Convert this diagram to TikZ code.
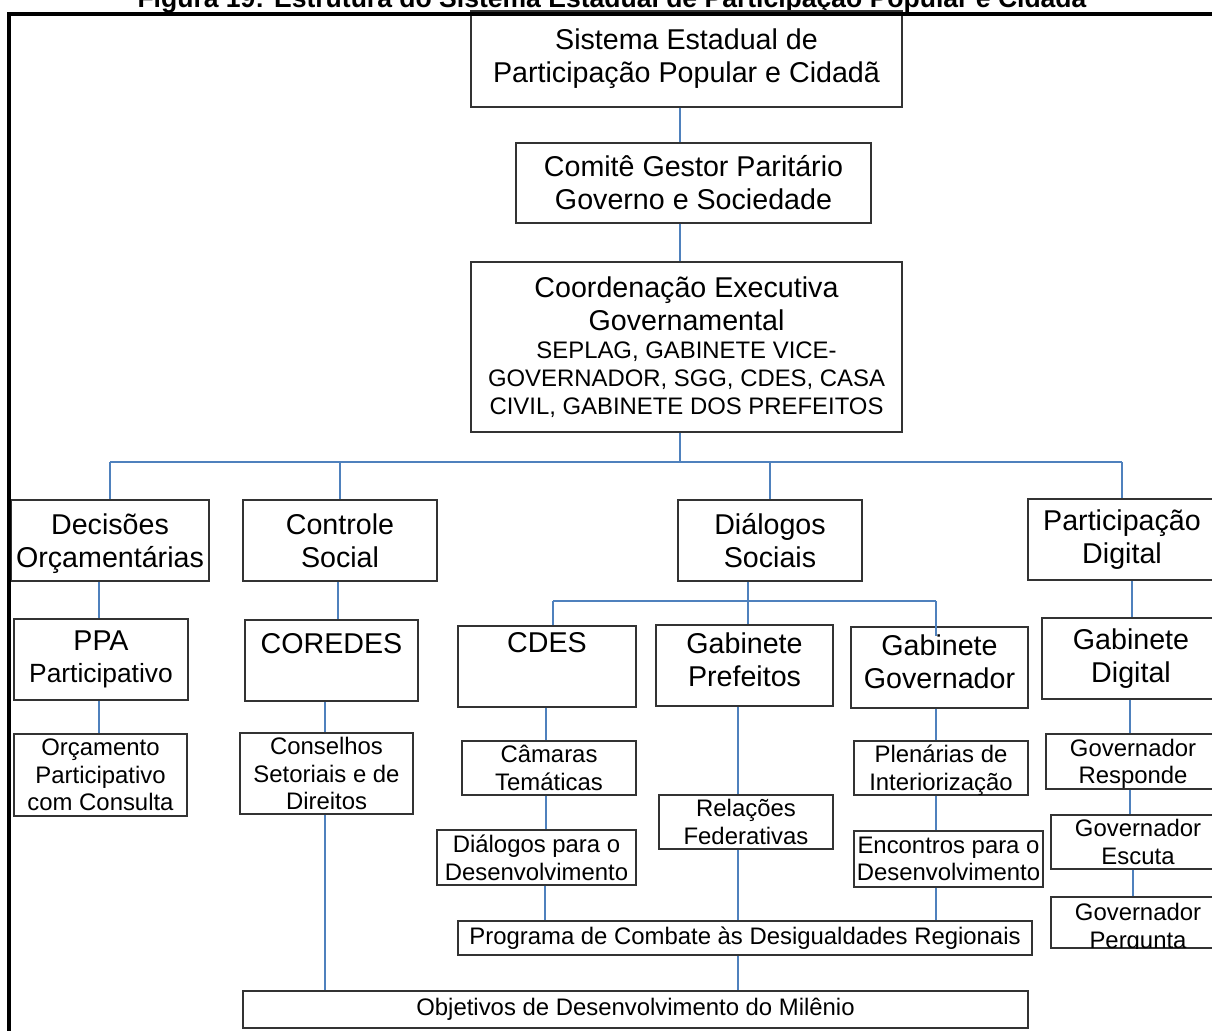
\documentclass[tikz,border=0pt]{standalone}
\usepackage{fontspec}
\setmainfont{Liberation Sans}
\definecolor{linkblue}{HTML}{4F81BD}
\definecolor{boxline}{HTML}{333333}
\newcommand\bigf{\fontsize{16.3}{18.8}\selectfont}
\newcommand\medf{\fontsize{15}{17.3}\selectfont}
\newcommand\smallf{\fontsize{13.6}{15.8}\selectfont}

\begin{document}
\begin{tikzpicture}[x=0.02cm, y=-0.02cm,
    box/.style={draw=boxline, line width=0.85pt, inner sep=0pt, align=center, fill=white},
    wh/.style 2 args={minimum width=#1*0.02cm, minimum height=#2*0.02cm},
    bigbox/.style={box, font=\bigf},
    smallbox/.style={box, font=\smallf},
    link/.style={draw=linkblue, line width=0.9pt}]
  \useasboundingbox (0,0) rectangle (1212,1030);
  \clip (0,0) rectangle (1212,1030);
  % title, cut by the top edge
  \node[anchor=base, font=\fontsize{15.1}{18}\selectfont\bfseries] (title) at (612,8)
    {Figura 19: Estrutura do Sistema Estadual de Participação Popular e Cidadã};

  % head of the chart
  \node[bigbox, wh={431}{96}] (sis) at (686.5,59) {Sistema Estadual de\\Participação Popular e Cidadã};
  \node[bigbox, wh={355}{80}] (com) at (693.5,183) {Comitê Gestor Paritário\\Governo e Sociedade};
  \node[bigbox, wh={431}{170}, text width=8.5cm, align=flush center] (coo) at (686.5,347)
    {Coordenação Executiva\\Governamental\par
    \smallf SEPLAG, GABINETE VICE-\\GOVERNADOR, SGG, CDES, CASA\\CIVIL, GABINETE DOS PREFEITOS\par};

  % the four branches
  \node[bigbox, wh={198}{81}] (dec) at (110,540.5) {Decisões\\Or\smash{ç}amentárias};
  \node[bigbox, wh={194}{81}] (con) at (340,540.5) {Controle\\Social};
  \node[bigbox, wh={184}{81}] (dia) at (770,540.5) {Diálogos\\Sociais};
  \node[bigbox, wh={188}{81}] (par) at (1122,539.5) {Participação\\Digital};

  \node[bigbox, wh={174}{81}] (ppa) at (101,659.5) {PPA\\[-1pt]\medf Participativo};
  \node[bigbox, wh={173}{81}] (cor) at (331.5,660.5) {COREDES\\\mbox{}};
  \node[bigbox, wh={178}{81}] (cdes) at (547,666.5) {CDES\\[8pt]\mbox{}};
  \node[bigbox, wh={177}{81}] (pre) at (744.5,665.5) {Gabinete\\Prefeitos\\[-12.6pt]\mbox{}};
  \node[bigbox, wh={177}{81}] (gov) at (939.5,667.5) {Gabinete\\Governador\\[-12.6pt]\mbox{}};
  \node[bigbox, wh={178}{81}] (gd) at (1131,658.5) {Gabinete\\Digital};

  \node[smallbox, wh={173}{82}] (orc) at (100.5,775) {Orçamento\\Participativo\\com Consulta};
  \node[smallbox, wh={173}{81}] (cons) at (326.5,773.5) {Conselhos\\Setoriais e de\\Direitos};
  \node[smallbox, wh={174}{54}] (cam) at (549,768) {Câmaras\\Temáticas};
  \node[smallbox, wh={199}{55}] (dpd) at (536.5,857.5) {Diálogos para o\\Desenvolvimento};
  \node[smallbox, wh={174}{54}] (rel) at (746,822) {Relações\\Federativas};
  \node[smallbox, wh={174}{54}] (ple) at (941,768) {Plenárias de\\Interioriza\smash{ç}ão};
  \node[smallbox, wh={189}{56}] (enc) at (948.5,859) {Encontros para o\\Desenvolvimento};
  \node[smallbox, wh={174}{55}] (gr) at (1133,761.5) {Governador\\Res\smash{p}onde};
  \node[smallbox, wh={174}{54}] (ge) at (1138,842) {Governador\\Escuta};
  \node[smallbox, wh={174}{51}] (gp) at (1138,922.5) {};
  \begin{scope}
    \clip (gp.south west) rectangle (gp.north east);
    \node[font=\smallf, align=center, inner sep=0pt] (gptext) at (1138,928) {Governador\\Pergunta};
  \end{scope}

  \node[smallbox, wh={574}{34}] (prog) at (745,938) {Programa de Combate às Desigualdades Regionais};
  \node[smallbox, wh={785}{37}] (obj) at (635.5,1009.5) {Objetivos de Desenvolvimento do Milênio};

  % connectors
  \coordinate (bus) at (0,462);
  \coordinate (dbus) at (0,601);
  \draw[link] (sis.south -| 680,0) -- (com.north -| 680,0);
  \draw[link] (com.south -| 680,0) -- (coo.north -| 680,0);
  \draw[link] (coo.south -| 680,0) -- (bus -| 680,0);
  \draw[link] (bus -| dec.north) -- (bus -| par.north);
  \foreach \n in {dec,con,dia,par}
    \draw[link] (bus -| \n.north) -- (\n.north);

  \draw[link] (dia.south -| 748,0) -- (pre.north -| 748,0);
  \draw[link] (dbus -| 553,0) -- (dbus -| 936,0);
  \draw[link] (dbus -| 553,0) -- (cdes.north -| 553,0);
  \draw[link] (dbus -| 936,0) -- (gov.north -| 936,0) -- ++(0,10);

  \foreach \a/\b/\x in {dec/ppa/99, ppa/orc/99, con/cor/338, cor/cons/325, cons/obj/325,
      cdes/cam/546, cam/dpd/546, dpd/prog/545, pre/rel/738, rel/prog/738, prog/obj/738,
      gov/ple/936, ple/enc/936, enc/prog/936, par/gd/1132, gd/gr/1130, gr/ge/1130, ge/gp/1133}
    \draw[link] (\a.south -| \x,0) -- (\b.north -| \x,0);

  % frame
  \draw[line width=2.5pt] (9,1040) -- (9,14) -- (1230,14);
\end{tikzpicture}
\end{document}
